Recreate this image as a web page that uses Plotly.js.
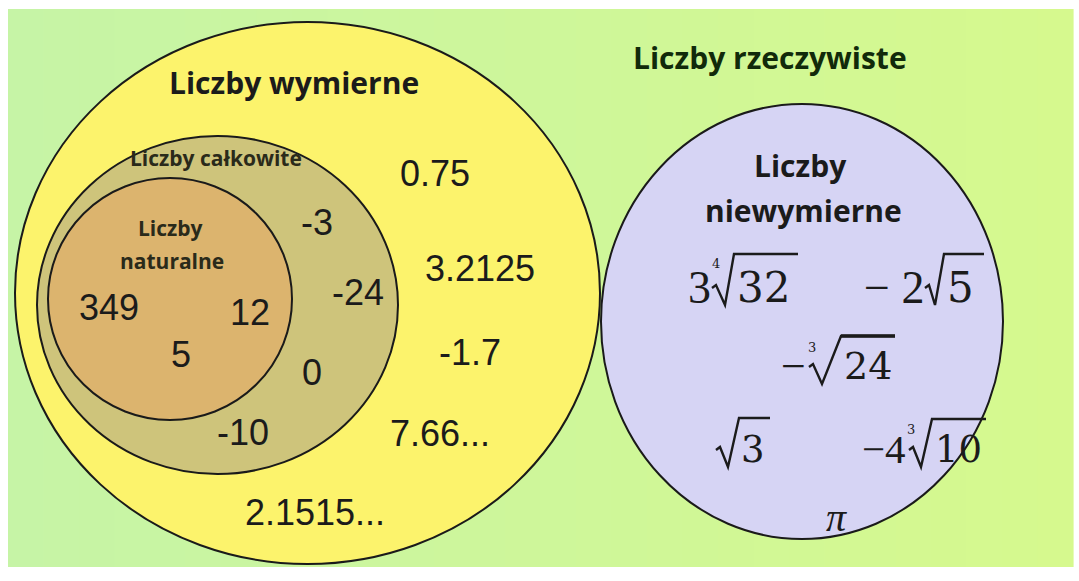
<!DOCTYPE html>
<html><head><meta charset="utf-8">
<script src="https://cdn.plot.ly/plotly-3.0.1.min.js"></script>
<style>html,body{margin:0;padding:0;background:#fff}</style>
</head><body><div id="chart" style="width:1079px;height:581px"></div>
<script>
// ---- data (labels) ----
const setReal = ["Liczby rzeczywiste"];
const setRational = ["Liczby wymierne"];
const setInteger = ["Liczby całkowite"];
const setNatural = ["Liczby", "naturalne"];
const setIrrational = ["Liczby", "niewymierne"];
const naturalNums = ["349", "12", "5"];
const integerNums = ["-3", "-24", "0", "-10"];
const rationalNums = ["0.75", "3.2125", "-1.7", "7.66...", "2.1515..."];
const irrCoef = ["3", "\u2212 2", "\u2212", "", "\u22124"];
const irrIndex = ["4", "", "3", "", "3"];
const irrRadicand = ["32", "5", "24", "3", "10"];
const irrConst = ["\u03c0"];

// ---- layout positions (pixels) ----
const naturalPos = [[109,307],[250,312],[181,354]];
const integerPos = [[317,222],[358,292],[312,372],[243,432]];
const rationalPos = [[435,173],[480,268],[470,352],[440,433],[315,512]];
const realPos = [770,57];
const rationalTitlePos = [294,82];
const integerTitlePos = [216,158];
const naturalTitlePos = [[170,228],[172,261]];
const irrTitlePos = [[800,165],[803,210]];
// radical geometry: coefficient right edge, index pos, tick x, V bottom x, top x, bar end x, bar y, mid y, bottom y, radicand left x, font sizes
const irrGeom = [
  {cr:711, ix:716, iy:263, tx:712, vx:725, topx:734, endx:798, ty:254, my:287, by:305, rl:737, fs:42, cs:46, lw:2.4},
  {cr:924, ix:0,   iy:0,   tx:925, vx:935, topx:944, endx:984, ty:254, my:287, by:305, rl:947, fs:42, cs:46, lw:2.4},
  {cr:806, ix:812, iy:347, tx:809, vx:822, topx:841, endx:895, ty:336, my:366, by:384, rl:844, fs:38, cs:44, lw:3.6},
  {cr:0,   ix:0,   iy:0,   tx:716, vx:728, topx:739, endx:770, ty:418, my:449, by:467, rl:741, fs:37, cs:40, lw:2.4},
  {cr:906, ix:911, iy:429, tx:909, vx:921, topx:932, endx:986, ty:419, my:449, by:467, rl:935, fs:37, cs:41, lw:2.4}
];
const piPos = [836,517];

const numFont = {family:"Liberation Sans, Arial, sans-serif", size:36, color:"#1b1b1b"};
const titleFont = (s, c) => ({family:"Open Sans, Lato, sans-serif", size:s, color:c || "#1b1b1b"});
const mathFont = (s) => ({family:"DejaVu Serif, serif", size:s, color:"#1b1b1b"});
const coefFont = (s) => ({family:"Liberation Serif, Times New Roman, serif", size:s, color:"#1b1b1b"});

const ann = [];
function add(text, x, y, font, xa) {
  ann.push({x:x, y:y, xref:"x", yref:"y", text:text, showarrow:false, font:font,
            xanchor:xa || "center", yanchor:"middle", borderpad:0, borderwidth:0});
}
add("<b>"+setReal[0]+"</b>", realPos[0], realPos[1], titleFont(30, "#112a0a"));
add("<b>"+setRational[0]+"</b>", rationalTitlePos[0], rationalTitlePos[1], titleFont(30));
add("<b>"+setInteger[0]+"</b>", integerTitlePos[0], integerTitlePos[1], titleFont(21, "#2a2a1a"));
setNatural.forEach((t,i)=>add("<b>"+t+"</b>", naturalTitlePos[i][0], naturalTitlePos[i][1], titleFont(21, "#2a2a1a")));
setIrrational.forEach((t,i)=>add("<b>"+t+"</b>", irrTitlePos[i][0], irrTitlePos[i][1], titleFont(30)));
naturalNums.forEach((t,i)=>add(t, naturalPos[i][0], naturalPos[i][1], numFont));
integerNums.forEach((t,i)=>add(t, integerPos[i][0], integerPos[i][1], numFont));
rationalNums.forEach((t,i)=>add(t, rationalPos[i][0], rationalPos[i][1], numFont));

// background with a soft left-to-right tint
const shapes = [];
const bgL = [198,244,166], bgR = [214,249,142], strips = 30, bx0 = 8, bx1 = 1073;
for (let k = 0; k < strips; k++) {
  const t = k/(strips-1);
  const c = bgL.map((v,j)=>Math.round(v + (bgR[j]-v)*t));
  shapes.push({type:"rect", xref:"x", yref:"y", x0:bx0+(bx1-bx0)*k/strips, x1:bx0+(bx1-bx0)*(k+1)/strips+0.6,
    y0:9, y1:567, fillcolor:"rgb("+c.join(",")+")", line:{width:0}, layer:"below"});
}
shapes.push(
  {type:"circle", xref:"x", yref:"y", x0:15, x1:600, y0:22, y1:564, fillcolor:"#fcf36c", line:{color:"#1a1a1a", width:2}, layer:"below"},
  {type:"circle", xref:"x", yref:"y", x0:37, x1:398, y0:136, y1:474, fillcolor:"#cec47b", line:{color:"#1a1a1a", width:2}, layer:"below"},
  {type:"circle", xref:"x", yref:"y", x0:48, x1:292, y0:178, y1:420, fillcolor:"#dcb46e", line:{color:"#1a1a1a", width:2}, layer:"below"},
  {type:"circle", xref:"x", yref:"y", x0:601, x1:1003, y0:104, y1:539, fillcolor:"#d6d4f4", line:{color:"#1a1a1a", width:2}, layer:"below"}
);

irrGeom.forEach((g,i)=>{
  if (irrCoef[i]) add(irrCoef[i], g.cr, g.my, coefFont(g.cs), "right");
  if (irrIndex[i]) add(irrIndex[i], g.ix, g.iy, mathFont(13));
  add(irrRadicand[i], g.rl, g.my, mathFont(g.fs), "left");
  const p = "M "+g.tx+" "+(g.my+1)+" L "+(g.tx+4)+" "+(g.my-2)+" L "+g.vx+" "+g.by+" L "+g.topx+" "+g.ty+" L "+g.endx+" "+g.ty;
  shapes.push({type:"path", xref:"x", yref:"y", path:p, line:{color:"#1b1b1b", width:2.4}, layer:"above"});
  if (g.lw > 3) shapes.push({type:"line", xref:"x", yref:"y", x0:g.topx, x1:g.endx, y0:g.ty, y1:g.ty, line:{color:"#1b1b1b", width:g.lw}, layer:"above"});
});
add("<i>"+irrConst[0]+"</i>", piPos[0], piPos[1], coefFont(40));

const layout = {
  width:1079, height:581, margin:{l:0,r:0,t:0,b:0},
  paper_bgcolor:"#ffffff", plot_bgcolor:"#ffffff", showlegend:false,
  xaxis:{range:[0,1079], visible:false, fixedrange:true},
  yaxis:{range:[581,0], visible:false, fixedrange:true},
  shapes:shapes, annotations:ann
};
Plotly.newPlot("chart", [{x:[0], y:[0], mode:"markers", marker:{opacity:0}, hoverinfo:"skip"}], layout, {staticPlot:true, displayModeBar:false});
</script></body></html>
